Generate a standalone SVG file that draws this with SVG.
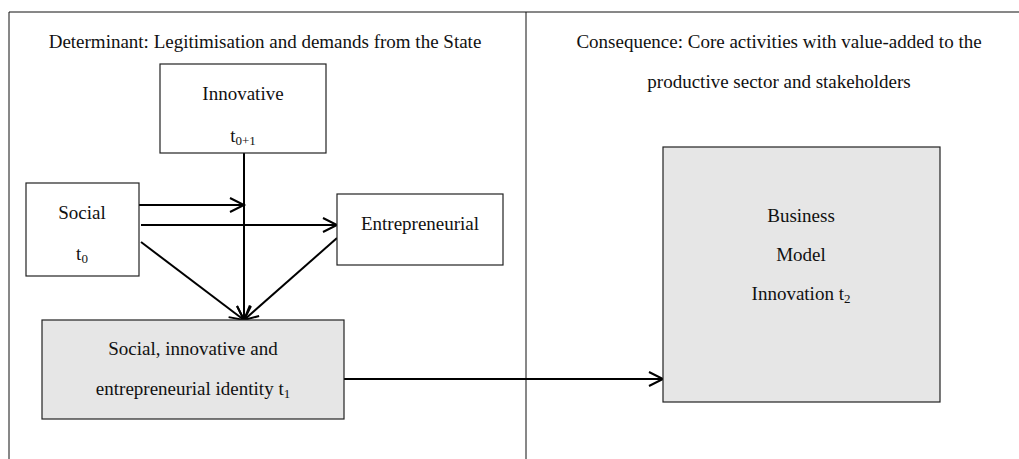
<svg xmlns="http://www.w3.org/2000/svg" width="1019" height="459" viewBox="0 0 1019 459">
<style>
text{font-family:"Liberation Serif","Times New Roman",serif;font-size:19px;fill:#111;text-anchor:middle}
.sub{font-size:13px}
.box{fill:#fff;stroke:#222;stroke-width:1.2}
.gbox{fill:#e6e6e6;stroke:#222;stroke-width:1.2}
.frame{stroke:#111;stroke-width:1;fill:none}
.conn{stroke:#000;stroke-width:2;fill:none;marker-end:url(#arr)}
</style>
<defs>
<marker id="arr" markerUnits="userSpaceOnUse" markerWidth="18" markerHeight="18" refX="15" refY="8" orient="auto" viewBox="0 0 18 16">
<path d="M1,1 L15,8 L1,15" fill="none" stroke="#000" stroke-width="2"/>
</marker>
</defs>
<rect width="1019" height="459" fill="#fff"/>
<g id="frame">
<line class="frame" x1="9" y1="12" x2="1019" y2="12"/>
<line class="frame" x1="9" y1="12" x2="9" y2="459"/>
<line class="frame" x1="526" y1="12" x2="526" y2="459"/>
</g>
<g id="headers">
<text x="265" y="48">Determinant: Legitimisation and demands from the State</text>
<text x="779" y="48">Consequence: Core activities with value-added to the</text>
<text x="779" y="88">productive sector and stakeholders</text>
</g>
<g id="connectors">
<line class="conn" x1="244" y1="153" x2="244" y2="320"/>
<line class="conn" x1="139" y1="205" x2="244" y2="205"/>
<line class="conn" x1="141" y1="225" x2="337" y2="225"/>
<line class="conn" x1="141" y1="242" x2="244" y2="320"/>
<line class="conn" x1="337" y1="238" x2="244" y2="320"/>
<line class="conn" x1="344" y1="379" x2="663" y2="379"/>
</g>
<g id="innovative">
<rect class="box" x="160" y="64" width="166" height="89"/>
<text x="243" y="100">Innovative</text>
<text x="243" y="142">t<tspan class="sub" dy="3">0+1</tspan></text>
</g>
<g id="social">
<rect class="box" x="26" y="183" width="113" height="93"/>
<text x="82" y="219">Social</text>
<text x="82" y="260">t<tspan class="sub" dy="3">0</tspan></text>
</g>
<g id="entrepreneurial">
<rect class="box" x="337" y="194" width="166" height="71"/>
<text x="420" y="230">Entrepreneurial</text>
</g>
<g id="identity">
<rect class="gbox" x="42" y="320" width="302" height="99"/>
<text x="193" y="355">Social, innovative and</text>
<text x="193" y="395">entrepreneurial identity t<tspan class="sub" dy="3">1</tspan></text>
</g>
<g id="bmi">
<rect class="gbox" x="663" y="147" width="277" height="255"/>
<text x="801" y="222">Business</text>
<text x="801" y="261">Model</text>
<text x="801" y="300">Innovation t<tspan class="sub" dy="3">2</tspan></text>
</g>
</svg>
